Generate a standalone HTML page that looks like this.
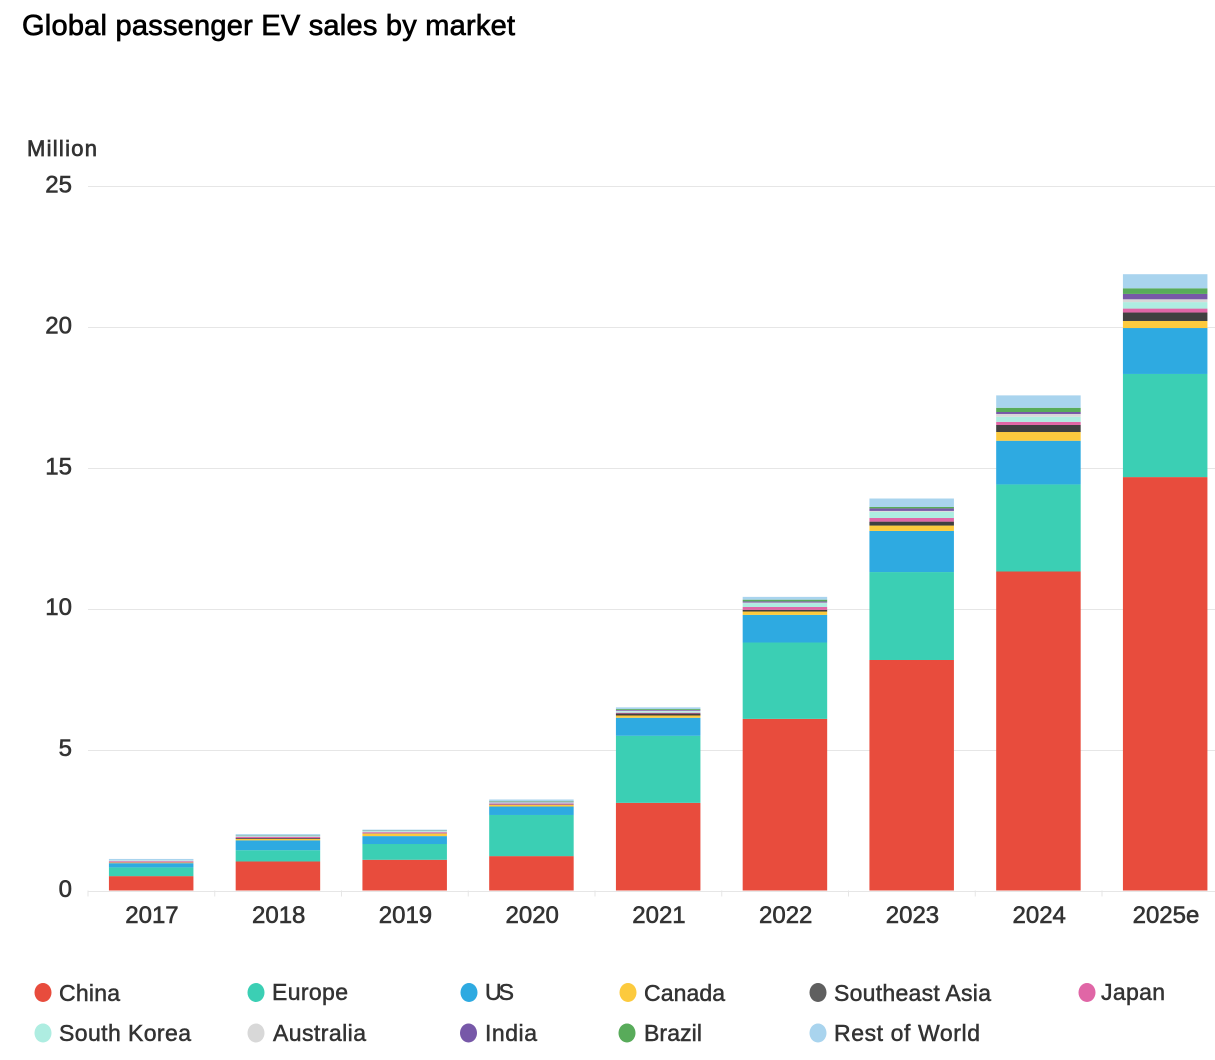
<!DOCTYPE html>
<html lang="en">
<head>
<meta charset="utf-8">
<title>Global passenger EV sales by market</title>
<style>
html,body{margin:0;padding:0;background:#fff;}
svg{display:block;font-family:"Liberation Sans",Arial,sans-serif;}
.tick{font-size:24px;fill:#333;stroke:#333;stroke-width:.6px;}
.leg{font-size:23px;fill:#333;stroke:#333;stroke-width:.5px;}
</style>
</head>
<body>
<svg id="chart" width="1215" height="1060" viewBox="0 0 1215 1060" xmlns="http://www.w3.org/2000/svg">
  <text x="22" y="35" font-size="29" fill="#000" stroke="#000" stroke-width=".7" textLength="493">Global passenger EV sales by market</text>
  <text x="27" y="156" font-size="22" fill="#333" stroke="#333" stroke-width=".7" textLength="70">Million</text>
  <g id="grid"></g>
  <g id="bars"></g>
  <g id="axes"></g>
  <g>
    <g><ellipse cx="43" cy="992.5" rx="8.5" ry="9.5" fill="#e84c3d"/><text class="leg" x="59" y="1001" textLength="61">China</text></g>
    <g><ellipse cx="256" cy="992.5" rx="8.5" ry="9.5" fill="#3bcfb4"/><text class="leg" x="272" y="1000" textLength="76">Europe</text></g>
    <g><ellipse cx="469" cy="992.5" rx="8.5" ry="9.5" fill="#2eaae1"/><text class="leg" x="485" y="1000" textLength="29">US</text></g>
    <g><ellipse cx="628" cy="992.5" rx="8.5" ry="9.5" fill="#fcca3e"/><text class="leg" x="644" y="1001" textLength="81">Canada</text></g>
    <g><ellipse cx="818" cy="992.5" rx="8.5" ry="9.5" fill="#5f5f5f"/><text class="leg" x="834" y="1001" textLength="157">Southeast Asia</text></g>
    <g><ellipse cx="1087" cy="992.5" rx="8.5" ry="9.5" fill="#e066a6"/><text class="leg" x="1101" y="1000" textLength="64">Japan</text></g>
    <g><ellipse cx="43" cy="1033" rx="8.5" ry="9.5" fill="#aeede1"/><text class="leg" x="59" y="1041" textLength="132">South Korea</text></g>
    <g><ellipse cx="256" cy="1033" rx="8.5" ry="9.5" fill="#d8d8d8"/><text class="leg" x="273" y="1041" textLength="93">Australia</text></g>
    <g><ellipse cx="468.500" cy="1033" rx="8.500" ry="9.500" fill="#7758a8"/><text class="leg" x="485" y="1041" textLength="52">India</text></g>
    <g><ellipse cx="627" cy="1033" rx="8.5" ry="9.5" fill="#58ab5a"/><text class="leg" x="644" y="1041" textLength="58">Brazil</text></g>
    <g><ellipse cx="818" cy="1033" rx="8.5" ry="9.5" fill="#a9d4ee"/><text class="leg" x="834" y="1041" textLength="146">Rest of World</text></g>
  </g>
</svg>
<script>
const categories = ['2017','2018','2019','2020','2021','2022','2023','2024','2025e'];
const yTickValues = [0,5,10,15,20,25];
const china     = [0.51,1.03,1.09,1.22,3.11,6.09,8.18,11.32,14.67];
const europe    = [0.31,0.40,0.56,1.46,2.38,2.71,3.12,3.09,3.66];
const us        = [0.15,0.35,0.28,0.30,0.64,0.98,1.46,1.55,1.63];
const canada    = [0.02,0.05,0.09,0.06,0.08,0.12,0.19,0.31,0.25];
const southeastAsia = [0.01,0.03,0.01,0.01,0.07,0.06,0.14,0.25,0.30];
const japan     = [0.04,0.04,0.04,0.04,0.03,0.10,0.13,0.11,0.14];
const southKorea= [0.02,0.02,0.03,0.03,0.05,0.14,0.22,0.18,0.23];
const australia = [0.01,0.01,0.01,0.01,0.02,0.02,0.03,0.10,0.10];
const india     = [0.00,0.01,0.01,0.02,0.03,0.04,0.09,0.07,0.19];
const brazil    = [0.00,0.01,0.01,0.02,0.03,0.06,0.05,0.15,0.20];
const restOfWorld = [0.05,0.05,0.03,0.06,0.06,0.10,0.30,0.44,0.50];

const seriesList = [
  ['china',china,'#e84c3d'],['europe',europe,'#3bcfb4'],['us',us,'#2eaae1'],
  ['canada',canada,'#fcca3e'],['southeast-asia',southeastAsia,'#404040'],['japan',japan,'#e066a6'],
  ['south-korea',southKorea,'#aeede1'],['australia',australia,'#d8d8d8'],['india',india,'#7758a8'],
  ['brazil',brazil,'#58ab5a'],['rest-of-world',restOfWorld,'#a9d4ee']
];

const NS = 'http://www.w3.org/2000/svg';
const plotLeft = 88, plotRight = 1215, band = 126.75, barWidth = 84.5;
const y0 = 890.5, yPerUnit = 28.18;
function yScale(v){ return y0 - v * yPerUnit; }
function xScale(i){ return plotLeft + band * i + band / 2 - 0.2; }
function make(tag, attrs, parent){
  const el = document.createElementNS(NS, tag);
  for (const k in attrs) el.setAttribute(k, attrs[k]);
  parent.appendChild(el);
  return el;
}
const grid = document.getElementById('grid');
const barsG = document.getElementById('bars');
const axes = document.getElementById('axes');

yTickValues.forEach(function(t){
  const yy = Math.round(yScale(t)) + 0.5;
  const line = make('line', {x1:plotLeft, x2:plotRight, y1:yy, y2:yy, stroke:'#e6e6e6', 'stroke-width':1}, grid);
  
  
  const label = make('text', {x:72, y:yScale(t) + 6.5, 'text-anchor':'end', class:'tick'}, axes);
  
  
  label.textContent = t;
});

categories.forEach(function(cat, i){
  let base = 0;
  seriesList.forEach(function(s){
    const v = s[1][i];
    const top = base + v;
    const rect = make('rect', {x:xScale(i) - barWidth / 2, y:yScale(top), width:barWidth, height:Math.max(0, yScale(base) - yScale(top)), fill:s[2]}, barsG);
    
    
    base = top;
  });
  const tick = make('line', {x1:plotLeft + band * i, x2:plotLeft + band * i, y1:y0, y2:y0 + 6, stroke:'#e6e6e6', 'stroke-width':1}, axes);
  
  
  const label = make('text', {x:xScale(i) + 0.8, y:923, 'text-anchor':'middle', class:'tick'}, axes);
  
  
  label.textContent = cat;
});
</script>
</body>
</html>
